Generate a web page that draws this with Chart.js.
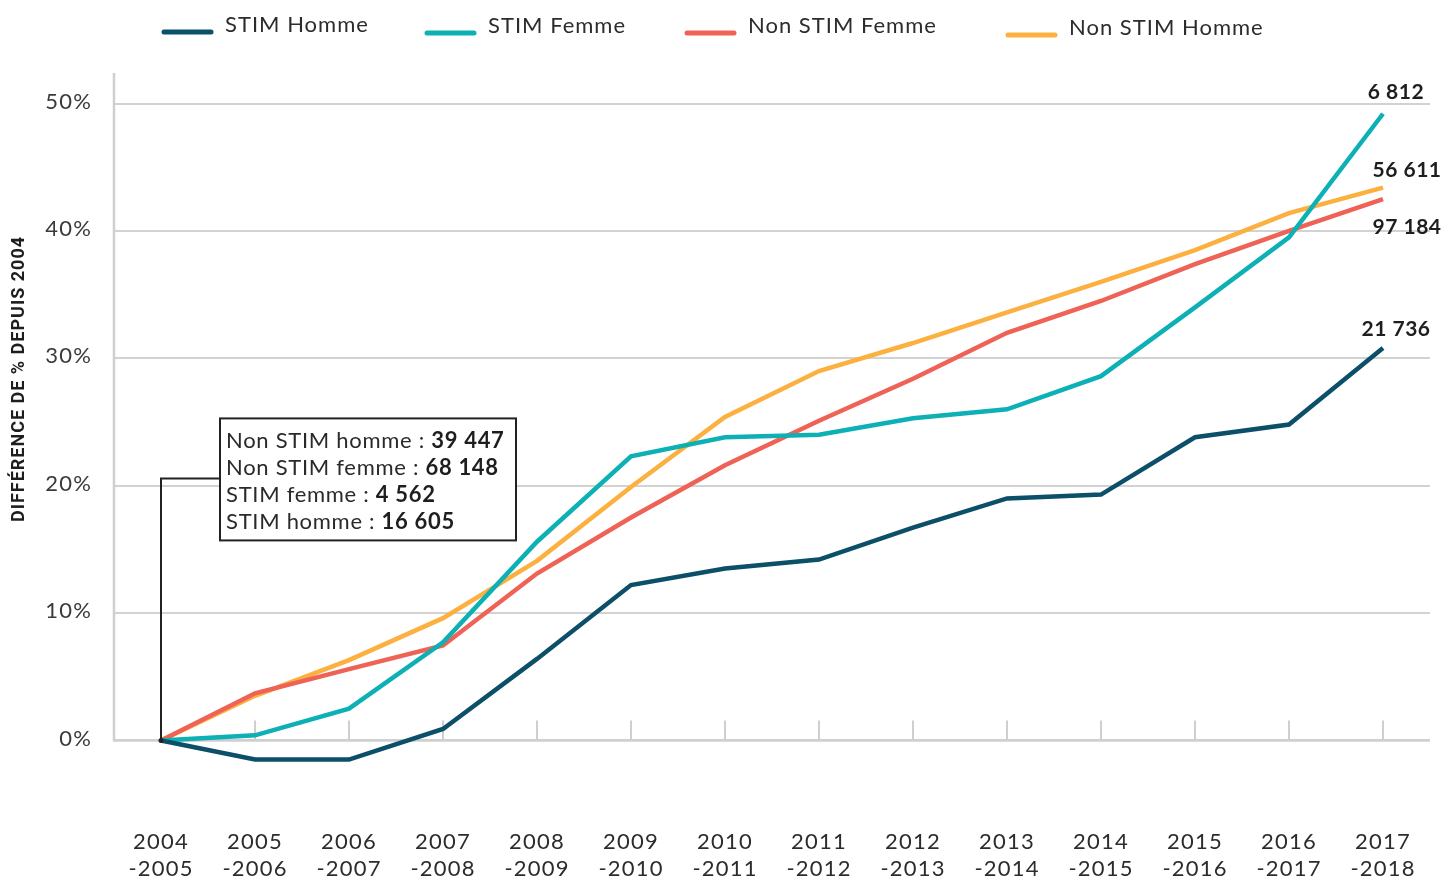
<!DOCTYPE html>
<html><head><meta charset="utf-8">
<script src="https://cdn.jsdelivr.net/npm/chart.js@4.4.1/dist/chart.umd.min.js"></script>
<style>html,body{margin:0;padding:0;background:#fff;} #wrap{width:1443px;height:877px;position:relative}</style>
</head><body><div id="wrap"><canvas id="c" width="1443" height="877"></canvas></div>
<script>
const categories = [['2004','-2005'],['2005','-2006'],['2006','-2007'],['2007','-2008'],['2008','-2009'],['2009','-2010'],['2010','-2011'],['2011','-2012'],['2012','-2013'],['2013','-2014'],['2014','-2015'],['2015','-2016'],['2016','-2017'],['2017','-2018']];
const seriesNames = ['STIM Homme','STIM Femme','Non STIM Femme','Non STIM Homme'];
const stimHomme    = [0,-1.5,-1.5,0.9,6.4,12.2,13.5,14.2,16.7,19.0,19.3,23.8,24.8,30.8];
const stimFemme    = [0,0.4,2.5,7.7,15.6,22.3,23.8,24.0,25.3,26.0,28.6,34.0,39.5,49.2];
const nonStimFemme = [0,3.7,5.6,7.45,13.1,17.5,21.6,25.1,28.4,32.0,34.5,37.4,40.0,42.5];
const nonStimHomme = [0,3.5,6.3,9.6,14.1,19.9,25.4,29.0,31.2,33.6,36.0,38.5,41.4,43.4];
const yTickValues = [0,10,20,30,40,50];
const endLabels = ['21 736','6 812','97 184','56 611'];
const baseLabels = ['Non STIM homme : ','Non STIM femme : ','STIM femme : ','STIM homme : '];
const baseValues = ['39 447','68 148','4 562','16 605'];
const yTitle = 'DIFFÉRENCE DE % DEPUIS 2004';

const colors = ['#0b4f68','#0cb0b5','#ef6256','#fbb03f'];
const FONT = 'Lato, "Open Sans", sans-serif';

const overlay = {
  id:'overlay',
  beforeDraw(chart){
    chart.ctx.letterSpacing = '1.2px';
  },
  beforeDatasetsDraw(chart){
    const {ctx, chartArea:a, scales:{x,y}} = chart;
    const y0 = y.getPixelForValue(0);
    ctx.save();
    ctx.strokeStyle = '#cfcfcf';
    ctx.lineWidth = 2;
    for (let i=0;i<categories.length;i++){
      const px = Math.round(x.getPixelForValue(i));
      ctx.beginPath(); ctx.moveTo(px, y0); ctx.lineTo(px, y0-20); ctx.stroke();
    }
    ctx.lineWidth = 2.5;
    ctx.beginPath(); ctx.moveTo(a.left, y0); ctx.lineTo(a.right, y0); ctx.stroke();
    ctx.beginPath(); ctx.moveTo(a.left, a.top); ctx.lineTo(a.left, y0+1); ctx.stroke();
    ctx.restore();
  },
  afterDatasetsDraw(chart){
    const {ctx, scales:{x,y}} = chart;
    const last = categories.length-1;
    ctx.save();
    const ox = x.getPixelForValue(0), oy = y.getPixelForValue(0);
    const bx = ox+59, by = oy-322, bw = 296, bh = 122;
    ctx.strokeStyle = '#222'; ctx.lineWidth = 2;
    ctx.beginPath(); ctx.moveTo(ox, oy); ctx.lineTo(ox, by+60); ctx.lineTo(bx, by+60); ctx.stroke();
    ctx.fillStyle = '#222';
    ctx.beginPath(); ctx.arc(ox, oy, 2.5, 0, Math.PI*2); ctx.fill();
    ctx.fillStyle = '#fff';
    ctx.fillRect(bx, by, bw, bh);
    ctx.strokeRect(bx, by, bw, bh);
    ctx.textBaseline = 'middle'; ctx.textAlign = 'left';
    ctx.letterSpacing = '0.7px';
    for (let i=0;i<baseLabels.length;i++){
      const ty = by + 22 + i*27.3;
      ctx.font = '22px ' + FONT; ctx.fillStyle = '#2a2a2a';
      ctx.fillText(baseLabels[i], bx+6, ty);
      const w = ctx.measureText(baseLabels[i]).width;
      ctx.font = 'bold 22px ' + FONT; ctx.fillStyle = '#1e1e1e';
      ctx.fillText(baseValues[i], bx+6+w, ty);
    }
    const offs = [[13,-19],[13,-22],[24,28],[24,-17]];
    ctx.font = 'bold 21px ' + FONT; ctx.fillStyle = '#1e1e1e'; ctx.textAlign='center';
    ctx.letterSpacing = '0.5px';
    chart.data.datasets.forEach((ds,i)=>{
      const px = x.getPixelForValue(last), py = y.getPixelForValue(ds.data[last]);
      ctx.fillText(endLabels[i], px+offs[i][0], py+offs[i][1]);
    });
    ctx.restore();
  },
  afterDraw(chart){
    const {ctx} = chart;
    ctx.save();
    const lx = [162,425,685,1006], ly = [32,33,33,35];
    ctx.font = '22px ' + FONT; ctx.textBaseline='middle'; ctx.textAlign='left';
    ctx.letterSpacing = '1px';
    chart.data.datasets.forEach((ds,i)=>{
      ctx.strokeStyle = ds.borderColor; ctx.lineWidth = 5; ctx.lineCap='round';
      ctx.beginPath(); ctx.moveTo(lx[i]+2, ly[i]); ctx.lineTo(lx[i]+49, ly[i]); ctx.stroke();
      ctx.fillStyle = '#2c2c2c';
      ctx.fillText(ds.label, lx[i]+63, ly[i]-7);
    });
    ctx.translate(19, 379); ctx.rotate(-Math.PI/2);
    ctx.font = 'bold 18px Roboto, sans-serif'; ctx.fillStyle='#1e1e1e'; ctx.textAlign='center';
    ctx.letterSpacing = '1px';
    ctx.fillText(yTitle, 0, 0);
    ctx.restore();
  }
};

const seriesData = [stimHomme, stimFemme, nonStimFemme, nonStimHomme];
new Chart(document.getElementById('c'), {
  type:'line',
  data:{
    labels: categories,
    datasets: seriesNames.map((n,i)=>({label:n, data:seriesData[i], borderColor:colors[i], backgroundColor:colors[i], borderWidth:4.5, pointRadius:0, tension:0, borderJoinStyle:'miter', fill:false}))
  },
  options:{
    responsive:false, animation:false, devicePixelRatio:1,
    layout:{padding:{top:73,right:13,left:0,bottom:0}},
    plugins:{legend:{display:false}, tooltip:{enabled:false}},
    scales:{
      x:{type:'category', offset:true, grid:{display:false, drawTicks:true, tickLength:43}, border:{display:false},
        ticks:{font:{family:FONT,size:22,lineHeight:1.23}, color:'#2c2c2c', padding:0, maxRotation:0, autoSkip:false},
        afterFit(s){ s.height = 92; }},
      y:{min:-3.5, max:52.4, grid:{color:'#d2d2d2', lineWidth:2, drawTicks:false}, border:{display:false},
        afterBuildTicks(s){ s.ticks = yTickValues.map(v=>({value:v})); },
        ticks:{font:{family:FONT,size:22}, color:'#3a3a3a', padding:22, labelOffset:-2, callback:v=>v+'%'},
        afterFit(s){ s.width = 114; }}
    }
  },
  plugins:[overlay]
});
</script></body></html>
